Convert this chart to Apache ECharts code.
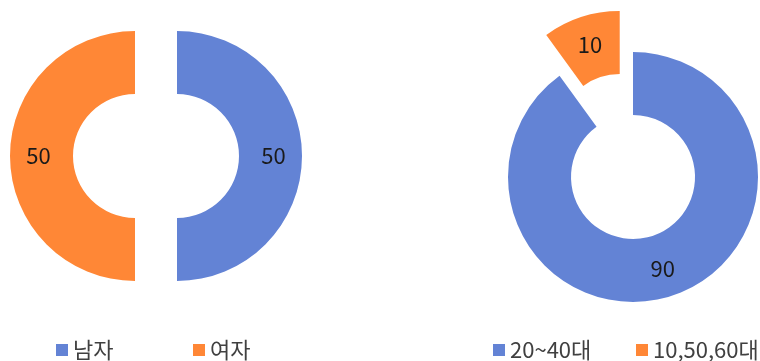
<!DOCTYPE html>
<html>
<head>
<meta charset="utf-8">
<script src="https://cdn.jsdelivr.net/npm/echarts@6/dist/echarts.min.js"></script>
<style>html,body{margin:0;padding:0;background:#fff}#c{width:760px;height:361px}</style>
</head>
<body>
<div id="c"></div>
<script>
const genderCategories = ['남자', '여자'];
const genderValues = [50, 50];
const ageCategories = ['20~40대', '10,50,60대'];
const ageValues = [90, 10];
const colors = ['#6383D5', '#FF8736'];

const FONT = '"Noto Sans CJK KR", "Noto Sans", sans-serif';
const chart = echarts.init(document.getElementById('c'), null, {renderer: 'canvas'});

function pieData(cats, vals, selectedIdx) {
  return cats.map((n, i) => ({
    name: n,
    value: vals[i],
    selected: selectedIdx.indexOf(i) >= 0,
    itemStyle: {color: colors[i]}
  }));
}

function legend(name, left) {
  return {
    data: [name],
    left: left,
    top: 337,
    padding: 0,
    icon: 'rect',
    itemWidth: 12,
    itemHeight: 12,
    itemGap: 0,
    selectedMode: false,
    textStyle: {fontFamily: FONT, fontSize: 22, color: '#404040', lineHeight: 26}
  };
}

const common = {
  type: 'pie',
  radius: [62, 125],
  selectedMode: 'multiple',
  clockwise: true,
  startAngle: 90,
  avoidLabelOverlap: false,
  animation: false,
  emphasis: {disabled: true, scale: false},
  select: {itemStyle: {borderWidth: 0}},
  label: {show: true, position: 'inside', formatter: '{c}', fontFamily: FONT, fontSize: 22, color: '#1a1a1a'},
  labelLine: {show: false}
};

chart.setOption({
  animation: false,
  color: colors,
  legend: [
    legend(genderCategories[0], 56),
    legend(genderCategories[1], 193),
    legend(ageCategories[0], 493),
    legend(ageCategories[1], 636)
  ],
  series: [
    Object.assign({}, common, {
      center: [156, 156],
      selectedOffset: 21,
      data: pieData(genderCategories, genderValues, [0, 1])
    }),
    Object.assign({}, common, {
      center: [633, 177],
      selectedOffset: 43,
      data: pieData(ageCategories, ageValues, [1])
    })
  ]
});
</script>
</body>
</html>
